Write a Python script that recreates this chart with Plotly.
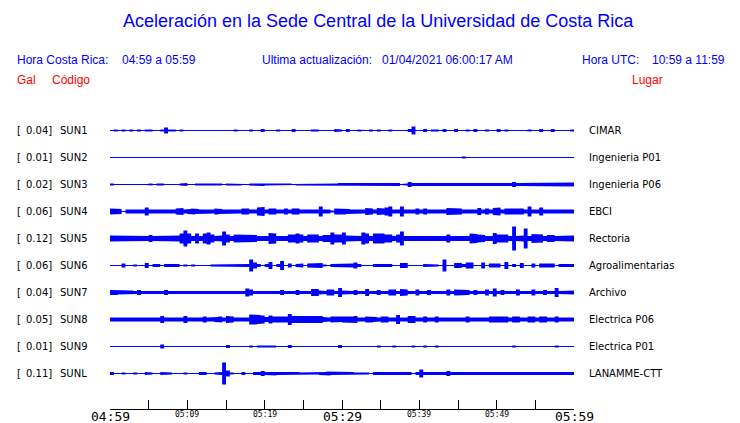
import plotly.graph_objects as go

# ---------------- data ----------------
stations = ["SUN1", "SUN2", "SUN3", "SUN4", "SUN5", "SUN6", "SUN7", "SUN8", "SUN9", "SUNL"]
peak_gal = ["0.04", "0.01", "0.02", "0.06", "0.12", "0.06", "0.04", "0.05", "0.01", "0.11"]
places = ["CIMAR", "Ingenieria P01", "Ingenieria P06", "EBCI", "Rectoria",
          "Agroalimentarias", "Archivo", "Electrica P06", "Electrica P01", "LANAMME-CTT"]

# envelope half-heights, one value per 30 s (120 bins over 60 min)
SUN1 = [0,1,0,1,0,1,0,1,0,1, 1,0,0,1,3,1,1,0,1,0, 0,0,0,0,0,0,0,0.5,0,0, 0,0,1,0,0,0,1,0,0,1.5,
        0,0,0,1,0,0,0,1.5,0,0, 0,0,1,1,0,0,0,0,1.5,1, 0,1.5,0,0,1,0.5,0,1,0,1, 0,0,1,0,0.5,0,0,1.5,4,0,
        0,1.5,0,1,1,0,1.5,0,0,1.5, 0,0,1,0,1.5,0,0,1,0,0, 1.5,0,1,0,0,0,0,0.5,1,0, 0,1.5,0,0,1.5,0,0,0.5,0,1]
SUN2 = [0,0,0,0,0,0,0,0,0,0, 0,0,0,0,0,0,0,0,0,0, 0,0,0,0,0,0,0,0,0,0, 0,0,0,0,0,0,0,0,0,0,
        0,0,0,0,0,0,0,0,0,0, 0,0,0,0,0,0,0,0,0,0, 0,0,0,0,0,0,0,0,0,0, 0,0,0,0,0,0,0,0,0,0,
        0,0,0,0,0,0,0,0,0,0, 0,1,0,0,0,0,0,0,0,0, 0,0,0,0,0,0,0,0,0,0, 0,0,0,0,0,0,0,0,0,0]
SUN3 = [1,0,0,0,0,0,0,0,0,0.5, 1,0,1,1,0,0.5,0,0,1,1.5, 0,0,1,1,1,1,1,0.5,1,0, 1,1,1,1,0.5,0,1,1,1,1.5,
        1,1,1,1,1,1,1,0.5,1,1, 1,1,1,1,1,1,1,1,1,1.5, 1.5,1.5,1.5,1.5,1.5,1.5,1.5,1.5,1.5,1.5,
        1.5,1.5,1.5,1.5,1.5,0.5,1,2.5,1.5,1.5, 1,1,1,1,1.5,1.5,1.5,1.5,1.5,1.5,
        1.5,1.5,1.5,1.5,1.5,1.5,1.5,1.5,1.5,1.5, 1.5,1.5,1.5,1.5,2.5,1.5,1.5,1.5,1.5,1.5,
        1.5,1.5,1.5,1.5,1.5,1.5,1.5,1.5,1.5,2]
SUN4 = [3,3,2.5,0.5,2,2,2,2,2,4, 2,2,2,2,2,2,2,3,3.5,2, 2.5,3,2.5,2,2,2,2,3,2.5,2, 2,2,2,2,3,3,2,2,4,4.5,
        2,3,3,2,2,3,2,3,3,2, 2.5,2,2.5,2,5,2,2,1,3,3, 3,2.5,2,2.5,2,2,3.5,3,2,3.5, 3,4,5,2,2,5,2,2,2,3,
        2,3,2,2,2,2,2,3.5,3.5,3, 3,2,2.5,2,2,3.5,2,3,2,3.5, 4,2,3,3,3,3,3,2,5,2, 2,4,2,2,2.5,2,2,2.5,2,2]
SUN5 = [3,3,2.5,3,3,2.5,3,2.5,3,2.5, 3.5,2.5,2.5,2.5,3,2.5,3,3,5,8, 5,2.5,5,2.5,5,6,4,2.5,3,7,
        4,2.5,4,4,4,3.5,3.5,3.5,2.5,2.5, 2.5,5.5,5,2.5,2.5,2.5,4,4,5,4, 2.5,4,4,4,2.5,3.5,3.5,6,4,4,
        6,3,3,2.5,2.5,6,5,2.5,5,5, 5,4,4,2.5,4,7,2.5,3,3,3, 2.5,3,2.5,3,2.5,3,2.5,4,2.5,3,
        2.5,2.5,2.5,5,4.5,4,3.5,2.5,2.5,5.5, 4,4,4,2.5,12,2.5,3,10,2.5,4.5, 4.5,4,2.5,3.5,3.5,2.5,3,3,3,3]
SUN6 = [0,0,0,2,0,0,1,0,0,2.5, 0,1.5,1.5,0,1.5,1.5,1.5,1.5,0,1, 0,1,0,0,0,0.5,1,1,1.5,1.5,
        1.5,1.5,1.5,1.5,1.5,1.5,6,3,1.5,0, 1.5,3.5,0,1.5,4.5,0,2,0,1.5,2, 0,2,2,2.5,2.5,1,0,1.5,1.5,1.5,
        1.5,2,2,3,1.5,0,0,0,1.5,1.5, 1.5,1.5,1.5,0,0,2.5,2.5,0,0,0, 0,1.5,1.5,1.5,1,0,6,0,0,2.5,
        2.5,1.5,3,3,0,0,3,0,2,2, 2,0,3.5,0,1.5,0,2.5,0,0,2, 0,2,2,2.5,2,0,1.5,1.5,1.5,1.5]
SUN7 = [2.5,2.5,2,2,2,2,1.5,2.5,1.5,1.5, 1.5,1.5,1.5,1.5,2.5,1.5,1.5,1.5,1.5,1.5,
        1.5,1.5,1.5,1.5,1.5,1.5,1.5,1.5,1.5,1.5, 1.5,1.5,1.5,1.5,1.5,4,3,1.5,2,2,
        1.5,1.5,1.5,1.5,2.5,1.5,1.5,1.5,2.5,1.5, 1.5,1.5,3.5,3.5,2,1.5,3,3,1.5,4.5,
        2,2,1.5,2.5,1.5,1.5,3.5,1.5,1.5,2.5, 1.5,1.5,3,3,1.5,3.5,3,1.5,1.5,3,
        1.5,1.5,2.5,1.5,1.5,1.5,1.5,3,1.5,3, 3,3,2.5,1.5,2.5,1.5,1.5,3,1.5,4,
        1.5,2.5,1.5,1.5,1.5,3,1.5,1.5,1.5,3, 1.5,1.5,2.5,1.5,1.5,4.5,1.5,2,2,2]
SUN8 = [2,2,2,2,2,2,2,2,2,2, 2,2,2,3.5,2,2,2,2,2,3.5, 2,2,2,2,3,2,2,2.5,3,2, 3.5,3,2,2.5,2,2,5,5,4.5,4,
        2.5,4,3,3,3,3,5.5,3.5,3,3, 3,3,3.5,3.5,3.5,2.5,2,3,3,2.5, 3,3,3,3.5,2,2,3,3,2.5,2,
        3,3,2,2,4.5,2,2,3.5,3.5,2, 2,3,2,2,3,2,2,2,2.5,2, 2,2,3,2,2.5,2,2,2,3,3,
        3,3,3,2,3,3,2,2,3,3, 2,3,3,2,2,3,2,2,2,2]
SUN9 = [0,0,0,0,0,0,0,0,0,0, 0,0,0,2,0,0,0,0,0,0, 0,0,0,0,0,0,0,0,0,0, 1.5,0,0,0,0,0,1,0,1,1,
        1,1,1,0,0,0,1.5,0,0,0, 0,0,0,0.5,0,0,0,0,0,1.5, 0,0,0,0,0,0,0,0,0,1, 0,0,0,1,0,0,0,0,1,0,
        0,1,0,0,1,0,0,0,0,0, 0,0.5,0,0,0,0,0,0,0,0, 0,0.5,0,0,1,0,0,0,0,0, 0,0,0,0,0,1,0,0,0,0]
SUNL = [1.5,0,0,1,0,0,1,0,0,1.5, 1,0,0,1.5,1.5,1,0,0,0,1, 0,0,0,1.5,1.5,0,0,1,1.5,11,
        3,1,0,0,1.5,0,0,1.5,1.5,2.5, 1.5,1.5,2,1.5,1.5,1.5,1.5,1.5,1.5,1, 1.5,1.5,1.5,1,1.5,1.5,2,1.5,1.5,1.5,
        1.5,1.5,1.5,1,1,1,1,0,1.5,1.5, 1.5,1.5,1.5,1.5,1.5,1.5,1.5,1.5,0,1.5,
        4,1.5,1.5,1.5,1.5,1.5,1.5,2.5,1.5,1.5, 1.5,1.5,1.5,1.5,1.5,1.5,1.5,1.5,1.5,1.5,
        1.5,1.5,1.5,1.5,1.5,1.5,1.5,1.5,1.5,1.5, 1.5,1.5,1.5,1.5,1.5,1.5,1.5,1.5,1.5,1.5]
envelopes = [SUN1, SUN2, SUN3, SUN4, SUN5, SUN6, SUN7, SUN8, SUN9, SUNL]

tick_minutes = [0, 5, 10, 15, 20, 25, 30, 35, 40, 45, 50, 55, 60]
label_minutes = [0, 10, 20, 30, 40, 50, 60]
label_texts = ["04:59", "05:09", "05:19", "05:29", "05:39", "05:49", "05:59"]
major_labels = ["04:59", "05:29", "05:59"]

# ---------------- layout constants ----------------
W, H = 740, 423
L, R, T, B = 110, 166, 118, 14
PLOT_H = H - T - B
ROW_PX = 27.0
BIN_MIN = 0.5
BLUE = "#0000ff"
RED = "#ff0000"
HALF_PX = 0.5 / ROW_PX   # centre traces on a pixel row for crisp lines

y_top = 12.0 / ROW_PX
y_bot = -(len(stations) - 1) - (PLOT_H - 12.0 - ROW_PX * (len(stations) - 1)) / ROW_PX

def py_to_paper(py):
    return (H - B - py) / PLOT_H

def px_to_paper(px):
    return (px - L) / (W - L - R)

fig = go.Figure()

for i, env in enumerate(envelopes):
    base = -i - HALF_PX
    xu, yu = [], []
    for k, a in enumerate(env):
        x0 = k * BIN_MIN
        x1 = (k + 1) * BIN_MIN
        xu += [x0, x1]
        yu += [base + a / ROW_PX, base + a / ROW_PX]
    xl = xu[::-1]
    yl = [2 * base - v for v in yu[::-1]]
    fig.add_trace(go.Scatter(
        x=xu + xl + [xu[0]], y=yu + yl + [yu[0]],
        mode="lines", fill="toself", fillcolor=BLUE,
        line=dict(color=BLUE, width=0), hoverinfo="skip", showlegend=False))
    fig.add_trace(go.Scatter(
        x=[0, len(env) * BIN_MIN], y=[base, base], mode="lines",
        line=dict(color=BLUE, width=1), hoverinfo="skip", showlegend=False))

annotations = []
lab_font = dict(family="DejaVu Sans", size=10, color="black")
for i, (st, g, pl) in enumerate(zip(stations, peak_gal, places)):
    annotations.append(dict(x=px_to_paper(15), y=-i, xref="paper", yref="y", text="[",
                            showarrow=False, xanchor="left", yanchor="middle", font=lab_font))
    annotations.append(dict(x=px_to_paper(53.5), y=-i, xref="paper", yref="y", text=g + "]",
                            showarrow=False, xanchor="right", yanchor="middle", font=lab_font))
    annotations.append(dict(x=px_to_paper(58), y=-i, xref="paper", yref="y", text=st,
                            showarrow=False, xanchor="left", yanchor="middle", font=lab_font))
    annotations.append(dict(x=px_to_paper(587), y=-i, xref="paper", yref="y", text=pl,
                            showarrow=False, xanchor="left", yanchor="middle", font=lab_font))

for m, t in zip(label_minutes, label_texts):
    big = t in major_labels
    annotations.append(dict(x=m, y=py_to_paper(416 if big else 414), xref="x", yref="paper", text=t,
                            showarrow=False, xanchor="center", yanchor="middle",
                            font=dict(family="DejaVu Sans Mono", size=13 if big else 8, color="black")))

hfont = dict(family="Liberation Sans, Arial", size=12, color=BLUE)
rfont = dict(family="Liberation Sans, Arial", size=12, color=RED)
annotations += [
    dict(x=px_to_paper(378), y=py_to_paper(21), xref="paper", yref="paper",
         text="Aceleración en la Sede Central de la Universidad de Costa Rica",
         showarrow=False, xanchor="center", yanchor="middle",
         font=dict(family="Liberation Sans, Arial", size=18, color=BLUE)),
    dict(x=px_to_paper(15), y=py_to_paper(60), xref="paper", yref="paper", text="Hora Costa Rica:",
         showarrow=False, xanchor="left", yanchor="middle", font=hfont),
    dict(x=px_to_paper(120), y=py_to_paper(60), xref="paper", yref="paper", text="04:59 a 05:59",
         showarrow=False, xanchor="left", yanchor="middle", font=hfont),
    dict(x=px_to_paper(260), y=py_to_paper(60), xref="paper", yref="paper", text="Ultima actualización:",
         showarrow=False, xanchor="left", yanchor="middle", font=hfont),
    dict(x=px_to_paper(380), y=py_to_paper(60), xref="paper", yref="paper", text="01/04/2021 06:00:17 AM",
         showarrow=False, xanchor="left", yanchor="middle", font=hfont),
    dict(x=px_to_paper(580), y=py_to_paper(60), xref="paper", yref="paper", text="Hora UTC:",
         showarrow=False, xanchor="left", yanchor="middle", font=hfont),
    dict(x=px_to_paper(650), y=py_to_paper(60), xref="paper", yref="paper", text="10:59 a 11:59",
         showarrow=False, xanchor="left", yanchor="middle", font=hfont),
    dict(x=px_to_paper(15), y=py_to_paper(80), xref="paper", yref="paper", text="Gal",
         showarrow=False, xanchor="left", yanchor="middle", font=rfont),
    dict(x=px_to_paper(50), y=py_to_paper(80), xref="paper", yref="paper", text="Código",
         showarrow=False, xanchor="left", yanchor="middle", font=rfont),
    dict(x=px_to_paper(630), y=py_to_paper(80), xref="paper", yref="paper", text="Lugar",
         showarrow=False, xanchor="left", yanchor="middle", font=rfont),
]

fig.update_layout(
    width=W, height=H,
    margin=dict(l=L, r=R, t=T, b=B, pad=0),
    paper_bgcolor="white", plot_bgcolor="white",
    showlegend=False,
    annotations=annotations,
    xaxis=dict(range=[0, 60], tickvals=tick_minutes, ticks="inside", ticklen=9, tickwidth=1,
               tickcolor="black", showticklabels=False, showline=True, linecolor="black",
               linewidth=1, showgrid=False, zeroline=False, fixedrange=True),
    yaxis=dict(range=[y_bot, y_top], visible=False, showgrid=False, zeroline=False, fixedrange=True),
)

fig.write_html("out.html", config={"displayModeBar": False},
               post_script="document.body.style.margin='0';document.body.style.overflow='hidden';")
